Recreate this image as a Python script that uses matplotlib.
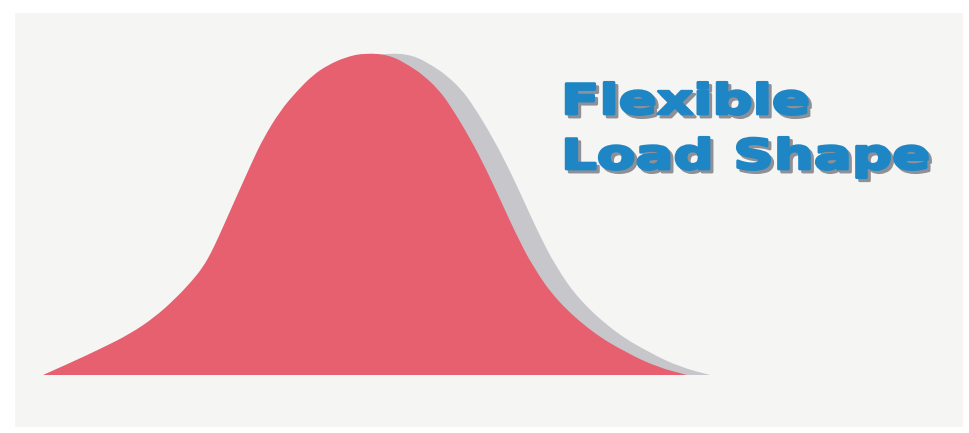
import numpy as np
import matplotlib
matplotlib.use('Agg')
import matplotlib.pyplot as plt
from matplotlib.path import Path
from matplotlib.patches import PathPatch, Rectangle
from matplotlib import patheffects
from matplotlib.transforms import Affine2D
from matplotlib.colors import to_rgba

# outline of the load shape
# (position along the time axis, load above the baseline)
shape_x = [43, 70, 100, 130, 155, 175, 192, 203, 211, 219, 227, 235, 244, 253, 263, 280,
           297, 313, 328, 346, 365, 390, 410, 423, 438, 450, 470, 487, 500, 515, 533,
           557, 593, 627, 657, 687]
shape_load = [0, 12, 26, 41, 58, 76, 94, 108, 122, 139, 157, 175, 195, 215, 236, 264,
              284, 300, 310, 318, 322, 320, 309, 300, 286, 270, 237, 204, 176, 143, 108,
              74, 42, 22, 8, 0]

title_lines = ['Flexible', 'Load Shape']

BG = '#ffffff'
PAPER = '#f5f5f3'
RED = '#e6606f'
SHADOW = '#c7c7cb'
BLUE = '#1f86c6'
TEXT_SHADOW = '#8e9096'


class Widen(patheffects.AbstractPathEffect):
    '''draw the text path stretched sideways (extended type face)'''
    def __init__(self, sx, offset=(0, 0), color=None, lw=0):
        super().__init__(offset)
        self.sx = sx
        self.color = color
        self.lw = lw

    def draw_path(self, renderer, gc, tpath, affine, rgbFace=None):
        gc0 = renderer.new_gc()
        gc0.copy_properties(gc)
        if self.color is not None:
            rgbFace = to_rgba(self.color)
            gc0.set_foreground(self.color)
        gc0.set_linewidth(self.lw)
        gc0.set_joinstyle('round')
        aff = Affine2D().scale(self.sx, 1) + affine + self._offset_transform(renderer)
        renderer.draw_path(gc0, tpath, aff, rgbFace)
        gc0.restore()


def smooth_outline(xs, ys, dx=0.0):
    # quadratic bezier through the midpoints, closed along the baseline
    pts = np.column_stack([np.asarray(xs, float) + dx, np.asarray(ys, float)])
    verts = [pts[0]]
    codes = [Path.MOVETO]
    for i in range(1, len(pts) - 1):
        verts += [pts[i], (pts[i] + pts[i + 1]) / 2]
        codes += [Path.CURVE3, Path.CURVE3]
    verts += [pts[-1], pts[0], pts[0]]
    codes += [Path.LINETO, Path.LINETO, Path.CLOSEPOLY]
    return Path(verts, codes)


fig = plt.figure(figsize=(9.7, 4.33), dpi=100)
fig.patch.set_facecolor(BG)
ax = fig.add_axes([0, 0, 1, 1])
ax.set_xlim(0, 970)
ax.set_ylim(-58, 375)
ax.axis('off')

# slightly grey paper inside a white margin
ax.add_patch(Rectangle((15, -52), 948, 414, fc=PAPER, ec='none', zorder=0))

# drop shadow first, then the load curve on top
ax.add_patch(PathPatch(smooth_outline(shape_x, shape_load, dx=23), fc=SHADOW, ec='none'))
ax.add_patch(PathPatch(smooth_outline(shape_x, shape_load), fc=RED, ec='none'))

effects = [Widen(1.35, offset=(2.2, -2.2), color=TEXT_SHADOW, lw=2.0),
           Widen(1.35, color=BLUE, lw=2.0)]
for line, y in zip(title_lines, [261, 206]):
    ax.text(561, y, line, fontsize=30, fontweight='bold', family='DejaVu Sans',
            color=BLUE, ha='left', va='baseline', path_effects=effects)

fig.savefig('out.png', dpi=100, facecolor=BG)
